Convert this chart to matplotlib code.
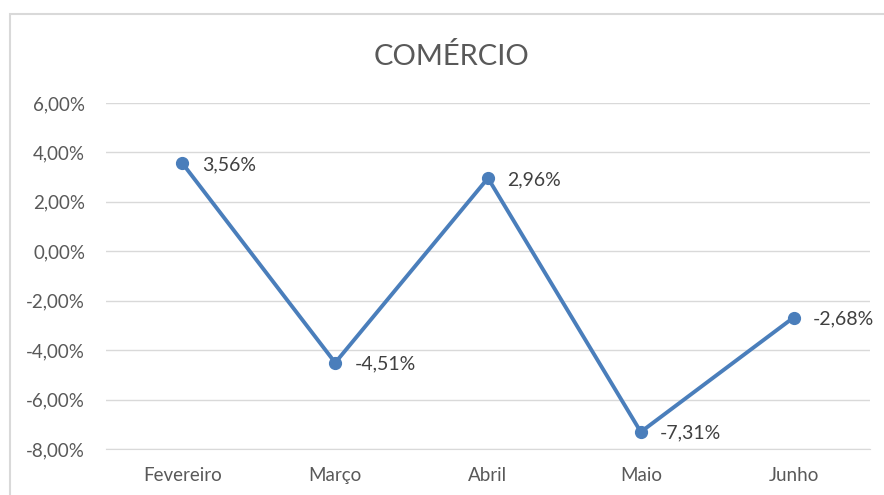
import matplotlib
matplotlib.use("Agg")
import matplotlib.pyplot as plt
from matplotlib.patches import Rectangle
from matplotlib.ticker import FuncFormatter

months = ["Fevereiro", "Março", "Abril", "Maio", "Junho"]
values = [3.56, -4.51, 2.96, -7.31, -2.68]
y_ticks = [-8, -6, -4, -2, 0, 2, 4, 6]

plt.rcParams["font.family"] = ["Lato", "DejaVu Sans"]

fig = plt.figure(figsize=(8.84, 4.95), dpi=100)
ax = fig.add_axes([106 / 884, 46 / 495, 764 / 884, 346 / 495])

# chart frame (runs off the right and bottom edges)
fig.patches.append(Rectangle((10 / 884, -0.05), 1.0, 1 - 14 / 495 + 0.05,
                             transform=fig.transFigure, fill=False,
                             edgecolor="#D9D9D9", linewidth=1.5))

line_color = "#4A7EBB"
x = list(range(len(months)))
ax.plot(x, values, color=line_color, linewidth=2.8, marker="o",
        markersize=8.5, zorder=3)

for xi, v in zip(x, values):
    label = f"{v:.2f}%".replace(".", ",")
    ax.annotate(label, (xi, v), xytext=(14, -1), textcoords="offset points",
                ha="left", va="center", fontsize=14, color="#404040")

ax.set_xlim(-0.5, len(months) - 0.5)
ax.set_ylim(-8, 6)
ax.set_yticks(y_ticks)
ax.yaxis.set_major_formatter(FuncFormatter(lambda v, p: f"{v:.2f}%".replace(".", ",")))
ax.set_xticks(x)
ax.set_xticklabels(months)
ax.grid(axis="y", color="#D9D9D9", linewidth=1)
ax.set_axisbelow(True)
for s in ax.spines.values():
    s.set_visible(False)
ax.spines["bottom"].set_visible(True)
ax.spines["bottom"].set_color("#D9D9D9")
ax.tick_params(axis="both", length=0, labelsize=13.5, labelcolor="#595959")
ax.tick_params(axis="y", pad=15)
ax.tick_params(axis="x", pad=13)

fig.text(452 / 884, 1 - 56 / 495, "COMÉRCIO", ha="center", va="center",
         fontsize=21, color="#595959")

fig.savefig("out.png", dpi=100)
